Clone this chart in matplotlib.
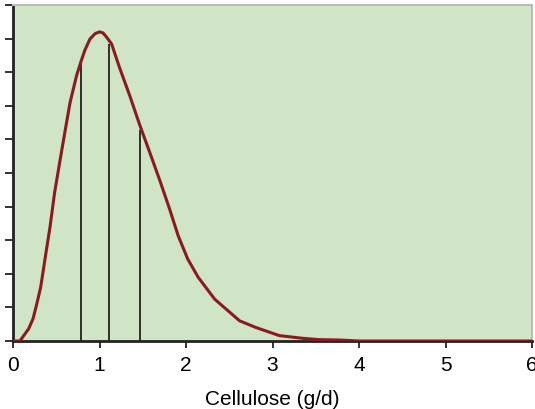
import numpy as np
import matplotlib.pyplot as plt

# density curve (arbitrary y units, 0-10)
cellulose = [0, 0.08, 0.18, 0.23, 0.27, 0.32, 0.37, 0.43, 0.48, 0.54,
             0.60, 0.66, 0.735, 0.79, 0.83, 0.89, 0.95, 1.0, 1.04, 1.08,
             1.14, 1.23, 1.35, 1.465, 1.58, 1.70, 1.81, 1.91, 2.02, 2.14,
             2.33, 2.62, 2.81, 3.08, 3.35, 3.54, 3.77, 4.0, 6.0]
density = [0, 0, 0.36, 0.65, 1.05, 1.6, 2.44, 3.43, 4.4, 5.32,
           6.22, 7.1, 7.9, 8.35, 8.65, 8.99, 9.15, 9.2, 9.17, 9.05,
           8.84, 8.15, 7.3, 6.43, 5.62, 4.76, 3.93, 3.13, 2.44, 1.9,
           1.25, 0.6, 0.4, 0.16, 0.08, 0.04, 0.03, 0, 0]
# vertical marker lines (quartiles)
markers = [0.79, 1.11, 1.47]
xticks = [0, 1, 2, 3, 4, 5, 6]

plt.rcParams['font.family'] = ['Liberation Sans', 'DejaVu Sans']

fig = plt.figure(figsize=(5.35, 4.1), dpi=100)
ax = fig.add_axes([13 / 535, 68 / 410, 519 / 535, 336 / 410])
ax.set_facecolor('#cfe5c5')

# lines stop just under the curve
tops = np.interp(markers, cellulose, density) - 0.12
ax.vlines(markers, 0, tops, colors='black', linewidth=1.1, zorder=2)
ax.plot(cellulose, density, color='#8b1a1f', linewidth=2.2, zorder=3,
        solid_joinstyle='round', solid_capstyle='round')

ax.set_xlim(0, 6)
ax.set_ylim(0, 10)
ax.set_xticks(xticks)
ax.set_yticks(range(11))
ax.set_yticklabels([])
ax.tick_params(axis='x', labelsize=15, length=5, width=1.3, pad=5, color='#222222')
ax.tick_params(axis='y', length=6, width=1.3, color='#222222')
ax.set_xlabel('Cellulose (g/d)', fontsize=15, labelpad=11)

for s in ['left', 'bottom']:
    ax.spines[s].set_color('#222222')
    ax.spines[s].set_linewidth(2.0)
for s in ['top', 'right']:
    ax.spines[s].set_color('#bbbbbb')
    ax.spines[s].set_linewidth(1.5)

fig.savefig('out.png', dpi=100)
